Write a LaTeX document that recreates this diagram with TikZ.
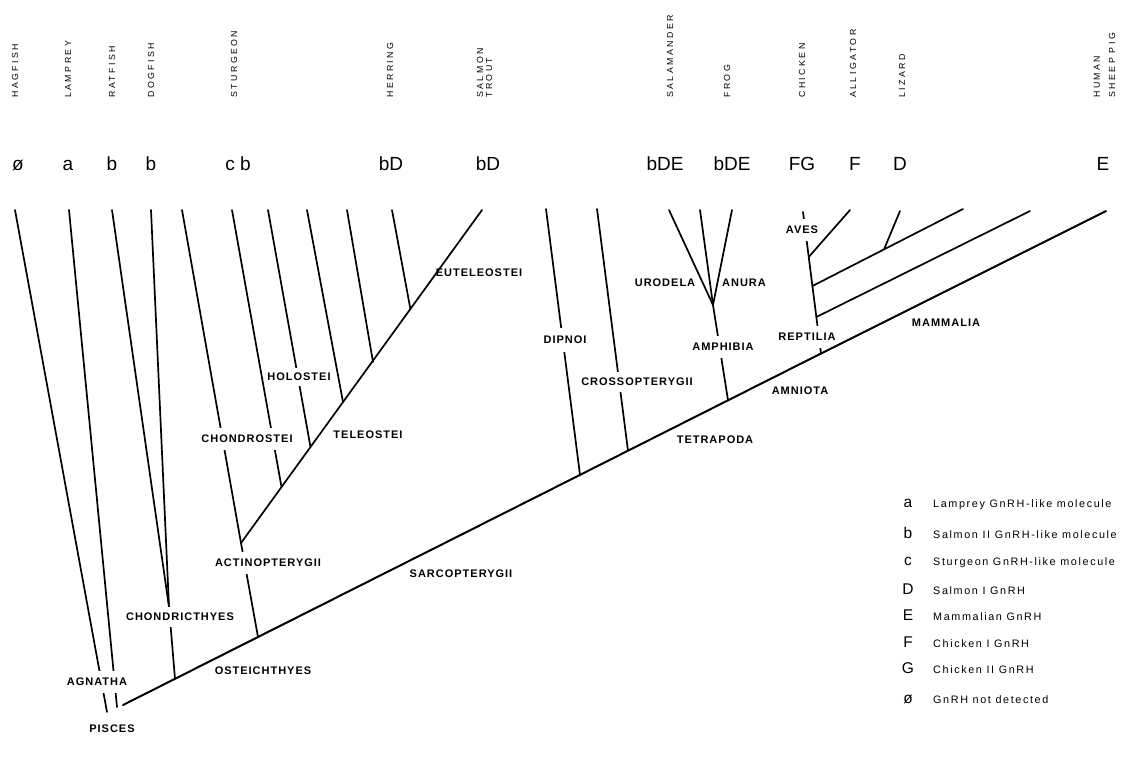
\documentclass[tikz,border=0pt]{standalone}
\usepackage{fontspec}
\setmainfont{Liberation Sans}
\newfontfamily\labfont[LetterSpace=9]{Liberation Sans}
\newfontfamily\spfont[LetterSpace=28]{Liberation Sans}
\newfontfamily\lgfont[LetterSpace=15]{Liberation Sans}
\begin{document}
\begin{tikzpicture}[x=1pt,y=-1pt,
  br/.style={line width=1.7pt, line cap=round},
  mainbr/.style={line width=2pt, line cap=round},
  lab/.style={font=\labfont\bfseries\fontsize{11}{12}\selectfont, inner sep=0pt},
  gaplab/.style={lab, fill=white, inner xsep=0.8pt, inner ysep=7.5pt},
  sp/.style={font=\spfont\fontsize{8.8}{9}\selectfont, rotate=90, anchor=west, inner sep=0pt},
  gene/.style={font=\fontsize{19}{19}\selectfont, anchor=base, inner sep=0pt},
  key/.style={font=\fontsize{15.5}{15.5}\selectfont, anchor=base, inner sep=0pt},
  lgtxt/.style={font=\lgfont\fontsize{10.8}{12}\selectfont, anchor=base west, inner sep=0pt}]
\useasboundingbox[fill=white] (0,0) rectangle (1140,764);

% ---------- coordinates ----------
% main (Sarcopterygii) line
\coordinate (root) at (123,705);
\coordinate (chj) at (175,678.8);
\coordinate (acj) at (258,637);
\coordinate (dpj) at (580,474.9);
\coordinate (crj) at (628,450.7);
\coordinate (amj) at (728,400.3);
\coordinate (rpj) at (821,353.5);
\coordinate (mam) at (1106,211);
% Agnatha
\coordinate (hagT) at (15,210);   \coordinate (hagB) at (107,712);
\coordinate (lamT) at (69,210);   \coordinate (lamB) at (117,707);
% Chondrichthyes
\coordinate (ratT) at (112,210);  \coordinate (dogT) at (151,210);
\coordinate (chn) at (169,607);
% Actinopterygii
\coordinate (acn) at (241,543);
\coordinate (stuT) at (182,210);
\coordinate (telT) at (482,210);
\coordinate (t1T) at (232,210);   \coordinate (t1) at (281.5,487);
\coordinate (t2T) at (268,210);   \coordinate (t2) at (310.5,447);
\coordinate (t3T) at (307,210);   \coordinate (t3) at (343,402);
\coordinate (t4T) at (347,210);   \coordinate (t4) at (373,362);
\coordinate (t5T) at (392,210);   \coordinate (t5) at (410.4,309);
% Sarcopterygii side
\coordinate (dipT) at (546,209);
\coordinate (croT) at (597,209);
\coordinate (amn) at (713,305);
\coordinate (a1T) at (669,210);  \coordinate (a2T) at (700,210);  \coordinate (a3T) at (732,210);
\coordinate (repT) at (803,212);
\coordinate (avj) at (808.7,257); \coordinate (chkT) at (850,210);
\coordinate (r2) at (812.4,286);  \coordinate (r2T) at (963,209);
\coordinate (lzj) at (884,249.4); \coordinate (lzT) at (900,211);
\coordinate (r3) at (816.3,317);  \coordinate (r3T) at (1030,211);

% ---------- branches ----------
\draw[br] (hagT) -- (hagB);
\draw[br] (lamT) -- (lamB);
\draw[br] (ratT) -- (chn);
\draw[br] (dogT) -- (chn);
\draw[br] (chn) -- (chj);
\draw[br] (stuT) -- (acn);
\draw[br] (acn) -- (acj);
\draw[br] (t1T) -- (t1);
\draw[br] (t2T) -- (t2);
\draw[br] (t3T) -- (t3);
\draw[br] (t4T) -- (t4);
\draw[br] (t5T) -- (t5);
\draw[br] (dipT) -- (dpj);
\draw[br] (croT) -- (crj);
\draw[br] (a1T) -- (amn);
\draw[br] (a2T) -- (amn);
\draw[br] (a3T) -- (amn);
\draw[br] (amn) -- (amj);
\draw[br] (repT) -- (rpj);
\draw[br] (avj) -- (chkT);
\draw[br] (r2) -- (r2T);
\draw[br] (lzj) -- (lzT);
\draw[br] (r3) -- (r3T);

% ---------- labels that interrupt branches ----------
\node[gaplab] (lchondrostei) at (247,439) {CHONDROSTEI};
\node[gaplab, inner ysep=5.5pt] (lholostei) at (299,377) {HOLOSTEI};
\node[gaplab] (lactino) at (268,563) {ACTINOPTERYGII};
\node[gaplab, inner ysep=6pt] (lchondr) at (180,617) {CHONDRICTHYES};
\node[gaplab] (lagnatha) at (97,682) {AGNATHA};
\node[gaplab, inner ysep=8.5pt] (ldipnoi) at (565,340) {DIPNOI};
\node[gaplab, inner ysep=6.5pt] (lcrosso) at (637,382) {CROSSOPTERYGII};
\node[gaplab] (lamphibia) at (723,347) {AMPHIBIA};
\node[gaplab] (lreptilia) at (807,337) {REPTILIA};
\node[gaplab, inner ysep=7pt] (laves) at (802,230) {AVES};

% main lines drawn on top
\draw[br] (acn) -- (telT);
\draw[mainbr] (root) -- (chj) -- (acj) -- (dpj) -- (crj) -- (amj) -- (rpj) -- (mam);

% ---------- other clade labels ----------
\node[lab] (lpisces) at (112,729) {PISCES};
\node[lab] (lostei) at (263,671) {OSTEICHTHYES};
\node[lab] (lsarco) at (461,574) {SARCOPTERYGII};
\node[lab] (ltetra) at (715,440) {TETRAPODA};
\node[lab] (lamnio) at (800,391) {AMNIOTA};
\node[lab] (lmamm) at (946,323) {MAMMALIA};
\node[lab] (lteleo) at (368,435) {TELEOSTEI};
\node[lab] (leutel) at (479,273) {EUTELEOSTEI};
\node[lab] (lurod) at (665,283) {URODELA};
\node[lab] (lanura) at (744,283) {ANURA};

% ---------- species names ----------
\node[sp] (shag) at (15,98) {HAGFISH};
\node[sp] (slam) at (68,98) {LAMPREY};
\node[sp] (srat) at (112,98) {RATFISH};
\node[sp] (sdog) at (151,98) {DOGFISH};
\node[sp] (sstu) at (234,98) {STURGEON};
\node[sp] (sher) at (390,98) {HERRING};
\node[sp] (ssal) at (480,98) {SALMON};
\node[sp] (stro) at (489,98) {TROUT};
\node[sp] (ssam) at (670,98) {SALAMANDER};
\node[sp] (sfro) at (727,98) {FROG};
\node[sp] (schi) at (802,98) {CHICKEN};
\node[sp] (sall) at (853,98) {ALLIGATOR};
\node[sp] (sliz) at (902,98) {LIZARD};
\node[sp] (shum) at (1097,98) {HUMAN};
\node[sp] (sshe) at (1112,98) {SHEEP PIG};

% ---------- GnRH forms per species ----------
\node[gene] (ghag) at (18,170) {ø};
\node[gene] (glam) at (68,170) {a};
\node[gene] (grat) at (112,170) {b};
\node[gene] (gdog) at (151,170) {b};
\node[gene] (gstu) at (238,170) {c b};
\node[gene] (gher) at (391,170) {bD};
\node[gene] (gsal) at (488,170) {bD};
\node[gene] (gsam) at (665,170) {bDE};
\node[gene] (gfro) at (732,170) {bDE};
\node[gene] (gchi) at (802,170) {FG};
\node[gene] (gall) at (855,170) {F};
\node[gene] (gliz) at (900,170) {D};
\node[gene] (gmam) at (1103,170) {E};

% ---------- legend ----------
\node[key] (ka) at (908,507) {a};   \node[lgtxt] (ta) at (933,507) {Lamprey GnRH-like molecule};
\node[key] (kb) at (908,538) {b};   \node[lgtxt] (tb) at (933,538) {Salmon II GnRH-like molecule};
\node[key] (kc) at (908,565) {c};   \node[lgtxt] (tc) at (933,565) {Sturgeon GnRH-like molecule};
\node[key] (kd) at (908,594) {D};   \node[lgtxt] (td) at (933,594) {Salmon I GnRH};
\node[key] (ke) at (908,620) {E};   \node[lgtxt] (te) at (933,620) {Mammalian GnRH};
\node[key] (kf) at (908,647) {F};   \node[lgtxt] (tf) at (933,647) {Chicken I GnRH};
\node[key] (kg) at (908,673) {G};   \node[lgtxt] (tg) at (933,673) {Chicken II GnRH};
\node[key] (ko) at (908,703) {ø};   \node[lgtxt] (to) at (933,703) {GnRH not detected};
\end{tikzpicture}
\end{document}
